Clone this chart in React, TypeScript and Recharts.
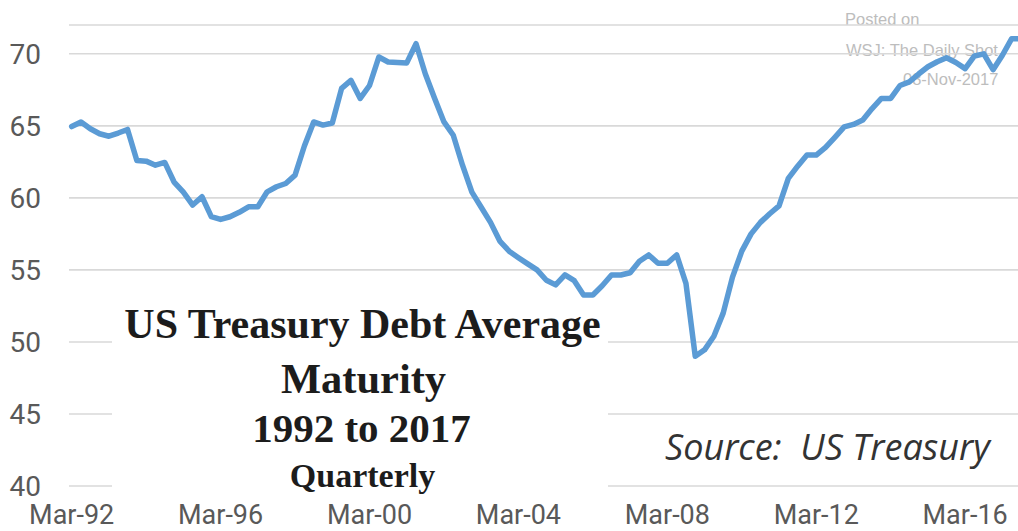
import React from 'react';
import { LineChart, Line, XAxis, YAxis, CartesianGrid } from 'recharts';

const monthNames = ['Mar', 'Jun', 'Sep', 'Dec'];
const years = [92, 93, 94, 95, 96, 97, 98, 99, 0, 1, 2, 3, 4, 5, 6, 7, 8, 9, 10, 11, 12, 13, 14, 15, 16, 17];

const quarterLabels: string[] = [];
years.forEach((y) => {
  monthNames.forEach((m) => {
    quarterLabels.push(`${m}-${String(y).padStart(2, '0')}`);
  });
});

const avgMaturity = [
  64.95, 65.27, 64.8, 64.45, 64.28, 64.5, 64.75, 62.6, 62.55, 62.27,
  62.46, 61.1, 60.4, 59.5, 60.08, 58.7, 58.5, 58.69, 59.0, 59.38,
  59.38, 60.42, 60.77, 61.0, 61.58, 63.6, 65.27, 65.05, 65.2, 67.6,
  68.16, 66.9, 67.8, 69.78, 69.43, 69.4, 69.37, 70.7, 68.6, 66.9,
  65.27, 64.35, 62.25, 60.4, 59.35, 58.3, 57.0, 56.3, 55.85, 55.42,
  55.0, 54.28, 53.96, 54.65, 54.25, 53.26, 53.26, 53.9, 54.65, 54.65,
  54.8, 55.6, 56.04, 55.46, 55.46, 56.04, 54.07, 49.0, 49.45, 50.4,
  52.0, 54.5, 56.3, 57.5, 58.3, 58.9, 59.45, 61.35, 62.2, 62.97,
  62.97, 63.5, 64.2, 64.93, 65.1, 65.4, 66.2, 66.9, 66.9, 67.8,
  68.05, 68.6, 69.1, 69.45, 69.73, 69.4, 68.97, 69.85, 70.0, 68.9,
  69.9, 71.05, 71.05,
];

const xTicks = ['Mar-92', 'Mar-96', 'Mar-00', 'Mar-04', 'Mar-08', 'Mar-12', 'Mar-16'];
const yTicks = [40, 45, 50, 55, 60, 65, 70];

const titleLines = ['US Treasury Debt Average', 'Maturity', '1992 to 2017', 'Quarterly'];
const sourceText = 'Source:  US Treasury';
const watermark = ['Posted on', 'WSJ: The Daily Shot', '08-Nov-2017'];

const data = quarterLabels.slice(0, avgMaturity.length).map((q, i) => ({
  quarter: q,
  value: avgMaturity[i],
}));

const tickFont = "Roboto, 'Open Sans', sans-serif";

const YTick = (props: any) => {
  const { x, y, payload } = props;
  return (
    <text
      x={x}
      y={y}
      dx={-26}
      dy="0.36em"
      textAnchor="end"
      fill="#595959"
      fontSize={28}
      fontFamily={tickFont}
    >
      {payload.value}
    </text>
  );
};

const XTick = (props: any) => {
  const { x, y, payload } = props;
  return (
    <text
      x={x}
      y={y}
      dy={18}
      textAnchor="middle"
      fill="#595959"
      fontSize={27}
      fontFamily={tickFont}
    >
      {payload.value}
    </text>
  );
};

export default function App() {
  const W = 1018;
  const H = 531;
  return (
    <div
      style={{
        position: 'absolute',
        left: 0,
        top: 0,
        width: W,
        height: H,
        overflow: 'hidden',
        background: '#ffffff',
      }}
    >
      <svg
        width={W}
        height={H}
        style={{ position: 'absolute', left: 0, top: 0 }}
      >
        <g fill="#bdbdbd" fontFamily="'Liberation Sans', Arial, sans-serif" fontSize={16.5}>
          <text x={845} y={24.5}>{watermark[0]}</text>
          <text x={846} y={56}>{watermark[1]}</text>
          <text x={903} y={85}>{watermark[2]}</text>
        </g>
      </svg>
      <div style={{ position: 'absolute', left: 0, top: 0 }}>
        <LineChart
          width={1021}
          height={H}
          data={data}
          margin={{ top: 25, right: 0, bottom: 0, left: 0 }}
        >
          <CartesianGrid
            vertical={false}
            stroke="#d9d9d9"
            strokeWidth={1.6}
          />
          <XAxis
            dataKey="quarter"
            ticks={xTicks}
            interval={0}
            tickLine={false}
            axisLine={false}
            height={45}
            tickSize={0}
            tickMargin={20}
            padding={{ left: 2.7, right: 0 }}
            tick={<XTick />}
          />
          <YAxis
            domain={[40, 72]}
            ticks={yTicks}
            interval={0}
            width={69}
            tickLine={false}
            axisLine={false}
            tickSize={0}
            tick={<YTick />}
          />
          <Line
            type="linear"
            dataKey="value"
            stroke="#5b9bd5"
            strokeWidth={5.5}
            strokeLinejoin="round"
            strokeLinecap="round"
            dot={false}
            activeDot={false}
            isAnimationActive={false}
          />
        </LineChart>
      </div>
      <svg
        width={W}
        height={H}
        style={{ position: 'absolute', left: 0, top: 0, pointerEvents: 'none' }}
      >
        <rect x={112} y={301} width={496} height={200} fill="#ffffff" />
        <g
          fill="#1c1c1c"
          fontFamily="'Liberation Serif', 'Times New Roman', serif"
          fontWeight="bold"
          textAnchor="middle"
        >
          <text x={362.5} y={338} fontSize={42}>{titleLines[0]}</text>
          <text x={363.5} y={393} fontSize={42.5}>{titleLines[1]}</text>
          <text x={361.5} y={442} fontSize={41}>{titleLines[2]}</text>
          <text x={362.5} y={487} fontSize={34}>{titleLines[3]}</text>
        </g>
        <text
          x={665}
          y={460}
          fill="#333333"
          fontFamily="'Open Sans', sans-serif"
          fontStyle="italic"
          fontSize={36}
          style={{ whiteSpace: 'pre' }}
        >
          {sourceText}
        </text>
      </svg>
    </div>
  );
}
